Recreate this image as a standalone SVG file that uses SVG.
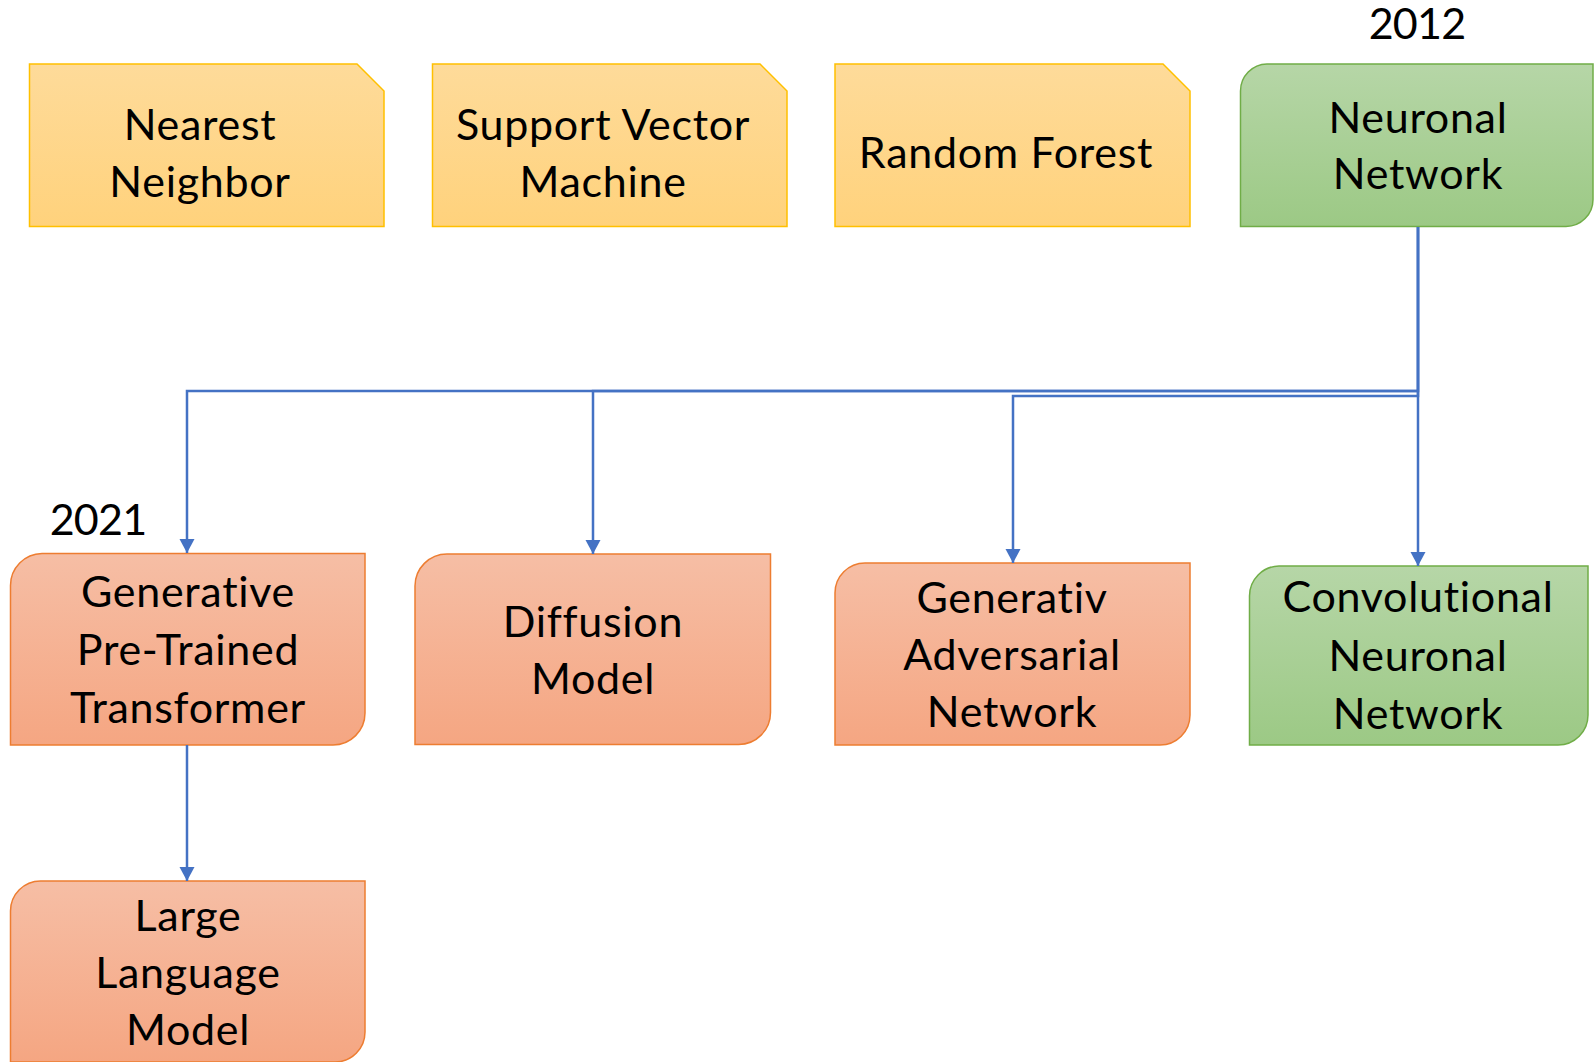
<svg xmlns="http://www.w3.org/2000/svg" width="1594" height="1062" viewBox="0 0 1594 1062">
  <defs>
    <linearGradient id="gYellow" x1="0" y1="0" x2="0" y2="1">
      <stop offset="0" stop-color="#FEDB9A"/>
      <stop offset="1" stop-color="#FFD27C"/>
    </linearGradient>
    <linearGradient id="gGreen" x1="0" y1="0" x2="0" y2="1">
      <stop offset="0" stop-color="#B6D6A7"/>
      <stop offset="1" stop-color="#9CC985"/>
    </linearGradient>
    <linearGradient id="gOrange" x1="0" y1="0" x2="0" y2="1">
      <stop offset="0" stop-color="#F6BEA5"/>
      <stop offset="1" stop-color="#F5A682"/>
    </linearGradient>
    <marker id="arrow" markerUnits="userSpaceOnUse" markerWidth="16" markerHeight="16" viewBox="0 0 16 16" refX="14" refY="8" orient="auto">
      <path d="M0,0.5 L14,8 L0,15.5 Z" fill="#4472C4"/>
    </marker>
  </defs>
  <style>
    .yellow { fill: url(#gYellow); stroke: #FFC000; stroke-width: 1.5; }
    .green { fill: url(#gGreen); stroke: #70AD47; stroke-width: 1.5; }
    .orange { fill: url(#gOrange); stroke: #ED7D31; stroke-width: 1.5; }
    .lbl { font-family: Lato, "Liberation Sans", sans-serif; font-size: 43px; letter-spacing: 0.7px; fill: #000; text-anchor: middle; }
    .year { letter-spacing: -0.8px; }
    .conn { fill: none; stroke: #4472C4; stroke-width: 2.5; }
  </style>
  <rect width="1594" height="1062" fill="#fff"/>

  <!-- year labels -->
  <text class="lbl year" x="1417" y="39">2012</text>
  <text class="lbl year" x="98" y="535">2021</text>

  <!-- top row: classic methods (snipped corner) -->
  <g id="nearest-neighbor">
    <path class="yellow" d="M29.5,64 H357 L384,91 V226.5 H29.5 Z"/>
    <text class="lbl" x="200" y="140">Nearest</text>
    <text class="lbl" x="200" y="196.5">Neighbor</text>
  </g>
  <g id="support-vector-machine">
    <path class="yellow" d="M432.5,64 H760 L787,91 V226.5 H432.5 Z"/>
    <text class="lbl" x="603" y="140">Support Vector</text>
    <text class="lbl" x="603" y="196.5">Machine</text>
  </g>
  <g id="random-forest">
    <path class="yellow" d="M835,64 H1163 L1190,91 V226.5 H835 Z"/>
    <text class="lbl" x="1006" y="167.5">Random Forest</text>
  </g>
  <g id="neuronal-network">
    <path class="green" d="M1267,64 H1593 V199.5 A27,27 0 0 1 1566,226.5 H1240.5 V91 A27,27 0 0 1 1267,64 Z"/>
    <text class="lbl" x="1418" y="132.5">Neuronal</text>
    <text class="lbl" x="1418" y="189">Network</text>
  </g>

  <!-- second row: deep learning models (round diagonal corners) -->
  <g id="generative-pretrained-transformer">
    <path class="orange" d="M42,553.5 H365 V713 A32,32 0 0 1 333,745 H10.5 V585.5 A32,32 0 0 1 42,553.5 Z"/>
    <text class="lbl" x="188" y="607">Generative</text>
    <text class="lbl" x="188" y="665">Pre-Trained</text>
    <text class="lbl" x="188" y="723">Transformer</text>
  </g>
  <g id="diffusion-model">
    <path class="orange" d="M447,554 H770.5 V712.5 A32,32 0 0 1 738.5,744.5 H415 V586 A32,32 0 0 1 447,554 Z"/>
    <text class="lbl" x="593" y="637">Diffusion</text>
    <text class="lbl" x="593" y="694">Model</text>
  </g>
  <g id="generative-adversarial-network">
    <path class="orange" d="M865,563 H1190 V715 A30,30 0 0 1 1160,745 H835 V593 A30,30 0 0 1 865,563 Z"/>
    <text class="lbl" x="1012" y="613">Generativ</text>
    <text class="lbl" x="1012" y="670">Adversarial</text>
    <text class="lbl" x="1012" y="727">Network</text>
  </g>
  <g id="convolutional-neuronal-network">
    <path class="green" d="M1279,566 H1588 V715 A30,30 0 0 1 1558,745 H1249.5 V596 A30,30 0 0 1 1279,566 Z"/>
    <text class="lbl" x="1418" y="612">Convolutional</text>
    <text class="lbl" x="1418" y="670.5">Neuronal</text>
    <text class="lbl" x="1418" y="728.5">Network</text>
  </g>

  <!-- third row -->
  <g id="large-language-model">
    <path class="orange" d="M40.5,881 H365 V1032 A30,30 0 0 1 335,1062 H10.5 V911 A30,30 0 0 1 40.5,881 Z"/>
    <text class="lbl" x="188" y="931">Large</text>
    <text class="lbl" x="188" y="988">Language</text>
    <text class="lbl" x="188" y="1045">Model</text>
  </g>

  <!-- connectors -->
  <g id="connectors">
    <path class="conn" marker-end="url(#arrow)" d="M1418,227 V391 H187 V553"/>
    <path class="conn" marker-end="url(#arrow)" d="M1418,391 H593 V554"/>
    <path class="conn" marker-end="url(#arrow)" d="M1418,227 V396 H1013 V563"/>
    <path class="conn" marker-end="url(#arrow)" d="M1418,227 V566"/>
    <path class="conn" marker-end="url(#arrow)" d="M187,745 V881"/>
  </g>
</svg>
